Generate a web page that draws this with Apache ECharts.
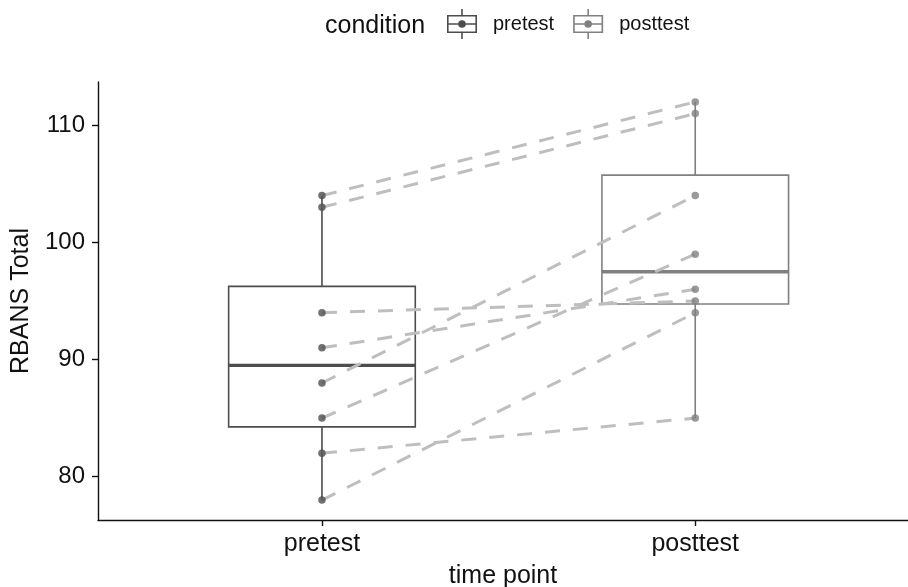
<!DOCTYPE html>
<html>
<head>
<meta charset="utf-8">
<script src="https://cdn.jsdelivr.net/npm/echarts@6/dist/echarts.min.js"></script>
<style>
html,body{margin:0;padding:0;background:#fff;}
#chart{width:908px;height:587px;}
</style>
</head>
<body>
<div id="chart"></div>
<script>
// ---- data ----
var timePoints = ['pretest', 'posttest'];
var pretestValues = [104, 103, 94, 91, 88, 85, 82, 78];
var posttestValues = [112, 111, 95, 96, 104, 99, 85, 94];
var yTicks = [80, 90, 100, 110];

var colors = { pretest: '#4D4D4D', posttest: '#808080' };
var lineColor = '#BEBEBE';
var FONT = '"Liberation Sans", Arial, Helvetica, sans-serif';

function quantile(sorted, p) {
  var h = (sorted.length - 1) * p;
  var lo = Math.floor(h), hi = Math.ceil(h);
  return sorted[lo] + (h - lo) * (sorted[hi] - sorted[lo]);
}
function boxStats(vals) {
  var s = vals.slice().sort(function (a, b) { return a - b; });
  var q1 = quantile(s, 0.25), med = quantile(s, 0.5), q3 = quantile(s, 0.75);
  var iqr = q3 - q1;
  var lo = s.filter(function (v) { return v >= q1 - 1.5 * iqr; })[0];
  var hiArr = s.filter(function (v) { return v <= q3 + 1.5 * iqr; });
  var hi = hiArr[hiArr.length - 1];
  return [lo, q1, med, q3, hi];
}

var groups = [pretestValues, posttestValues];
var series = [];

// boxes
groups.forEach(function (vals, gi) {
  var name = timePoints[gi];
  var st = boxStats(vals);
  series.push({
    name: name,
    type: 'custom',
    z: 1,
    silent: true,
    itemStyle: { color: colors[name] },
    data: [[gi + 1].concat(st)],
    renderItem: function (params, api) {
      var x = api.value(0);
      var lo = api.value(1), q1 = api.value(2), med = api.value(3), q3 = api.value(4), hi = api.value(5);
      var hw = 0.25;
      var pTL = api.coord([x - hw, q3]);
      var pBR = api.coord([x + hw, q1]);
      var pMedL = api.coord([x - hw, med]);
      var pMedR = api.coord([x + hw, med]);
      var pHi = api.coord([x, hi]);
      var pLo = api.coord([x, lo]);
      var c = colors[name];
      return {
        type: 'group',
        children: [
          { type: 'line', shape: { x1: pHi[0], y1: pHi[1], x2: pHi[0], y2: pTL[1] }, style: { stroke: c, lineWidth: 1.6 } },
          { type: 'line', shape: { x1: pLo[0], y1: pLo[1], x2: pLo[0], y2: pBR[1] }, style: { stroke: c, lineWidth: 1.6 } },
          { type: 'rect', shape: { x: pTL[0], y: pTL[1], width: pBR[0] - pTL[0], height: pBR[1] - pTL[1] }, style: { fill: '#fff', stroke: c, lineWidth: 1.6 } },
          { type: 'line', shape: { x1: pMedL[0], y1: pMedL[1], x2: pMedR[0], y2: pMedR[1] }, style: { stroke: c, lineWidth: 3.4 } }
        ]
      };
    }
  });
});

// paired dashed lines
pretestValues.forEach(function (v, i) {
  series.push({
    type: 'line',
    z: 2,
    silent: true,
    symbol: 'none',
    data: [[1, v], [2, posttestValues[i]]],
    lineStyle: { color: lineColor, width: 3, type: [15, 13] }
  });
});

// points
groups.forEach(function (vals, gi) {
  var name = timePoints[gi];
  series.push({
    name: name,
    type: 'scatter',
    z: 3,
    symbol: 'circle',
    symbolSize: 7.5,
    itemStyle: { color: colors[name] },
    data: vals.map(function (v) { return [gi + 1, v]; })
  });
});

var iconPath = 'path://M0 6H30V24H0Z M1.6 7.6V22.4H28.4V7.6Z ' +
  'M14.2 0H15.8V6H14.2Z M14.2 24H15.8V30H14.2Z ' +
  'M1.6 14.2H28.4V15.8H1.6Z ' +
  'M11.2 15A3.8 3.8 0 1 1 18.8 15A3.8 3.8 0 1 1 11.2 15Z';

var chart = echarts.init(document.getElementById('chart'), null, { renderer: 'canvas' });
chart.setOption({
  animation: false,
  backgroundColor: '#fff',
  textStyle: { fontFamily: FONT },
  title: {
    text: 'condition',
    left: 325, top: 14, padding: 0,
    textStyle: { fontFamily: FONT, fontSize: 25, fontWeight: 'normal', color: '#111' }
  },
  legend: {
    data: timePoints.map(function (n) { return { name: n, itemStyle: { color: colors[n] } }; }),
    left: 447, top: 9, padding: 0,
    itemWidth: 30, itemHeight: 30, itemGap: 19,
    icon: iconPath,
    selectedMode: false,
    textStyle: { fontFamily: FONT, fontSize: 20, color: '#111', padding: [0, 0, 0, 11] }
  },
  grid: { left: 98, right: 0, top: 82, bottom: 67, containLabel: false, outerBoundsMode: 'none' },
  xAxis: {
    type: 'value',
    min: 0.4, max: 2.57,
    name: 'time point',
    nameLocation: 'middle',
    nameGap: 44,
    nameTextStyle: { fontFamily: FONT, fontSize: 25, color: '#111' },
    axisLine: { show: true, lineStyle: { color: '#111', width: 1.4 } },
    axisTick: { show: true, length: 6, lineStyle: { color: '#111', width: 1.4 }, customValues: [1, 2] },
    axisLabel: {
      fontFamily: FONT, fontSize: 25, color: '#111', margin: 12,
      customValues: [1, 2],
      formatter: function (v) { return timePoints[Math.round(v) - 1] || ''; }
    },
    splitLine: { show: false }
  },
  yAxis: {
    type: 'value',
    min: 76.3, max: 113.7,
    name: 'RBANS Total',
    nameLocation: 'middle',
    nameGap: 58,
    nameTextStyle: { fontFamily: FONT, fontSize: 25, color: '#111' },
    axisLine: { show: true, lineStyle: { color: '#111', width: 1.4 } },
    axisTick: { show: true, length: 6, lineStyle: { color: '#111', width: 1.4 }, customValues: yTicks },
    axisLabel: { fontFamily: FONT, fontSize: 24, color: '#111', margin: 13, customValues: yTicks },
    splitLine: { show: false }
  },
  series: series
});
</script>
</body>
</html>
